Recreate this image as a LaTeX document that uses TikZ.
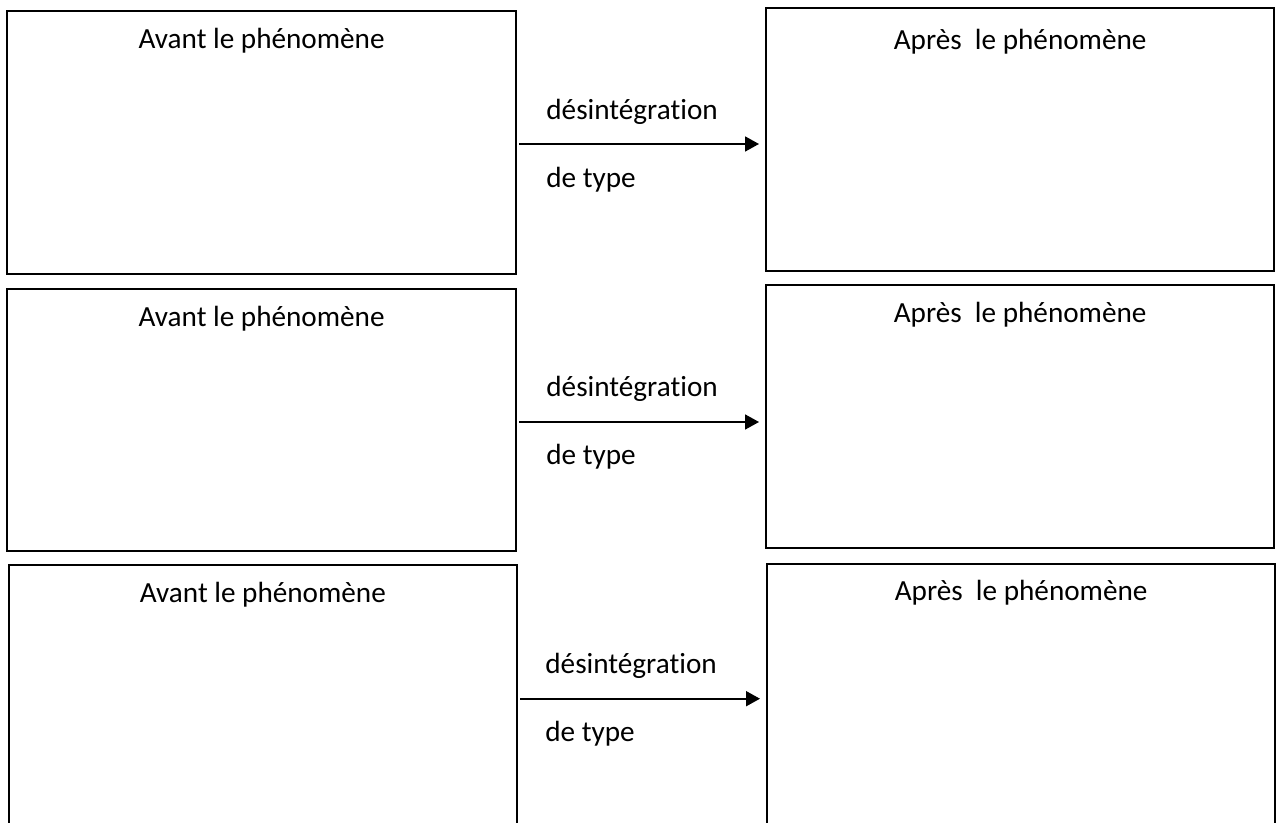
\documentclass[tikz,border=0pt]{standalone}
\usepackage{fontspec}
\setmainfont[Ligatures=NoCommon]{Carlito}
\usetikzlibrary{arrows.meta}
\begin{document}
\begin{tikzpicture}[x=0.5pt,y=-0.5pt,
  box/.style={draw=black, line width=1.1pt, rectangle, inner sep=0pt, anchor=north west},
  lbl/.style={font=\fontsize{14.6pt}{17pt}\selectfont, inner sep=0pt},
  arr/.style={draw=black, line width=0.9pt, -{Triangle[length=7pt,width=7.5pt]}, shorten <=1pt, shorten >=3pt}]
\useasboundingbox (0,0) rectangle (1279,823);
\clip (0,0) rectangle (1279,823);
% row 1
\node[box, minimum width=254.5pt, minimum height=131.3pt] (L1) at (6,10) {};
\node[box, minimum width=254pt, minimum height=131.5pt] (R1) at (765,7) {};
\node[lbl, anchor=base] (tl1) at (L1.north |- 0,49) {Avant le phénomène};
\node[lbl, anchor=base] (tr1) at (R1.north |- 0,49.5) {Après\ \ le phénomène};
\draw[arr] (L1.east |- 0,144) -- (R1.west |- 0,144);
\node[lbl, anchor=base west] (d1) at (546,120) {désintégration};
\node[lbl, anchor=base west] (p1) at (546,188) {de type};
% row 2
\node[box, minimum width=254.5pt, minimum height=131.2pt] (L2) at (6,287.7) {};
\node[box, minimum width=254pt, minimum height=131.35pt] (R2) at (765,284) {};
\node[lbl, anchor=base] (tl2) at (L2.north |- 0,327) {Avant le phénomène};
\node[lbl, anchor=base] (tr2) at (R2.north |- 0,323) {Après\ \ le phénomène};
\draw[arr] (L2.east |- 0,422) -- (R2.west |- 0,422);
\node[lbl, anchor=base west] (d2) at (546,397) {désintégration};
\node[lbl, anchor=base west] (p2) at (546,464) {de type};
% row 3
\node[box, minimum width=254.25pt, minimum height=150pt] (L3) at (7.5,564) {};
\node[box, minimum width=254pt, minimum height=150pt] (R3) at (766,562.5) {};
\node[lbl, anchor=base] (tl3) at (L3.north |- 0,602) {Avant le phénomène};
\node[lbl, anchor=base] (tr3) at (R3.north |- 0,600.7) {Après\ \ le phénomène};
\draw[arr] (L3.east |- 0,698.7) -- (R3.west |- 0,698.7);
\node[lbl, anchor=base west] (d3) at (545,673) {désintégration};
\node[lbl, anchor=base west] (p3) at (545,741) {de type};
\end{tikzpicture}
\end{document}
